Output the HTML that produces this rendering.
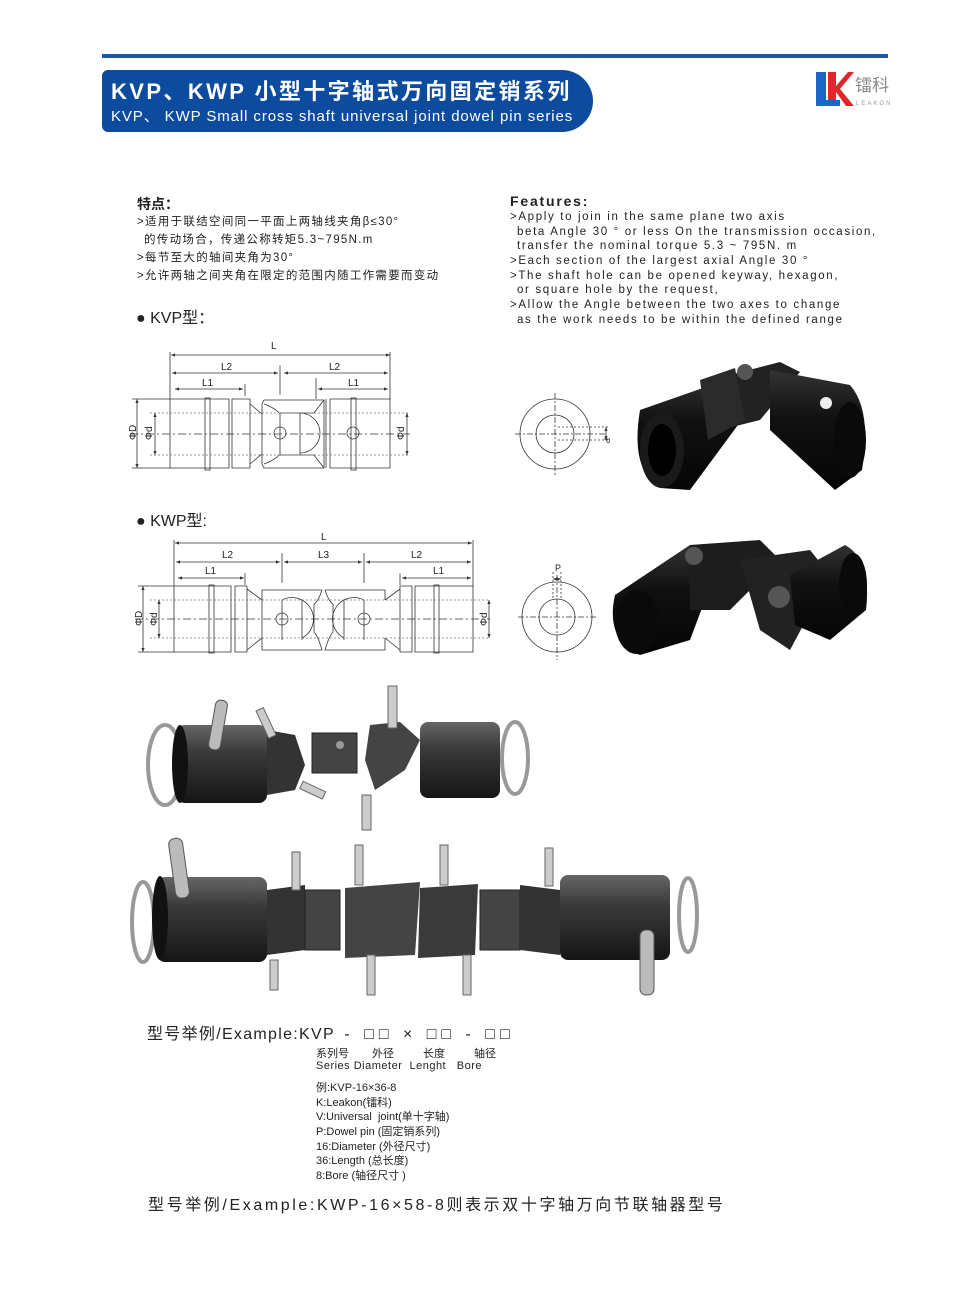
<!DOCTYPE html>
<html><head><meta charset="utf-8">
<style>
html,body{margin:0;padding:0;background:#fff;}
body{width:960px;height:1312px;position:relative;overflow:hidden;font-family:"Liberation Sans","Noto Sans CJK SC",sans-serif;color:#222;}
.a{position:absolute;white-space:nowrap;}
.t12{font-size:11.5px;letter-spacing:1.3px;}
.f12{font-size:11.5px;letter-spacing:1.65px;}
.s11{font-size:11px;}
</style></head><body>
<div class="a" style="left:102px;top:54px;width:786px;height:4px;background:#1b55a8;"></div>
<div class="a" style="left:102px;top:70px;width:491px;height:62px;background:#0c4b9e;border-radius:6px 31px 31px 6px;"></div>
<div class="a" style="left:111px;top:74px;color:#fff;font-size:22px;font-weight:bold;letter-spacing:2.4px;">KVP、KWP 小型十字轴式万向固定销系列</div>
<div class="a" style="left:111px;top:105px;color:#fff;font-size:15px;letter-spacing:0.9px;">KVP、 KWP Small cross shaft universal joint dowel pin series</div>
<svg class="a" style="left:814px;top:70px" width="80" height="40">
<polygon points="2,2 12,2 12,30 26,30 26,36 2,36" fill="#1d64c8"/>
<polygon points="14,2 22,2 22,16 34,2 40,2 26,19 40,36 32,36 22,22 22,30 14,30" fill="#e0262b"/>
<text x="41" y="21" font-size="17" fill="#8a8a8a" font-family="Noto Sans CJK SC,sans-serif">镭科</text>
<text x="42" y="35" font-size="6" fill="#999" letter-spacing="2">LEAKON</text>
</svg>

<div class="a" style="left:137px;top:194px;font-size:14px;font-weight:bold;">特点：</div>
<div class="a t12" style="left:137px;top:213px;">&gt;适用于联结空间同一平面上两轴线夹角β≤30°</div>
<div class="a t12" style="left:144px;top:231px;">的传动场合，传递公称转矩5.3~795N.m</div>
<div class="a t12" style="left:137px;top:249px;">&gt;每节至大的轴间夹角为30°</div>
<div class="a t12" style="left:137px;top:267px;">&gt;允许两轴之间夹角在限定的范围内随工作需要而变动</div>
<div class="a" style="left:136px;top:304px;font-size:16px;">● KVP型：</div>
<div class="a" style="left:136px;top:507px;font-size:16px;">● KWP型:</div>

<div class="a" style="left:510px;top:193px;font-size:14px;font-weight:bold;letter-spacing:1.8px;">Features:</div>
<div class="a f12" style="left:510px;top:211px;">&gt;Apply to join in the same plane two axis</div>
<div class="a f12" style="left:517px;top:226px;">beta Angle 30 ° or less On the transmission occasion,</div>
<div class="a f12" style="left:517px;top:240px;">transfer the nominal torque 5.3 ~ 795N. m</div>
<div class="a f12" style="left:510px;top:255px;">&gt;Each section of the largest axial Angle 30 °</div>
<div class="a f12" style="left:510px;top:270px;">&gt;The shaft hole can be opened keyway, hexagon,</div>
<div class="a f12" style="left:517px;top:284px;">or square hole by the request,</div>
<div class="a f12" style="left:510px;top:299px;">&gt;Allow the Angle between the two axes to change</div>
<div class="a f12" style="left:517px;top:314px;">as the work needs to be within the defined range</div>

<svg class="a" style="left:0;top:0" width="960" height="1312" font-family="Liberation Sans,sans-serif">
<defs>
<marker id="ar" markerWidth="6" markerHeight="6" refX="5" refY="3" orient="auto-start-reverse"><path d="M0,1 L5,3 L0,5z" fill="#333"/></marker>
<linearGradient id="blk" x1="0" y1="0" x2="0" y2="1"><stop offset="0" stop-color="#333"/><stop offset="0.4" stop-color="#111"/><stop offset="1" stop-color="#050505"/></linearGradient>
<linearGradient id="gry" x1="0" y1="0" x2="0" y2="1"><stop offset="0" stop-color="#666"/><stop offset="0.35" stop-color="#3a3a3a"/><stop offset="1" stop-color="#151515"/></linearGradient>
</defs>
<g stroke="#333" stroke-width="0.8" fill="none">
<line x1="171" y1="355" x2="390" y2="355" marker-start="url(#ar)" marker-end="url(#ar)"/>
<line x1="172" y1="373" x2="278" y2="373" marker-start="url(#ar)" marker-end="url(#ar)"/>
<line x1="284" y1="373" x2="388" y2="373" marker-start="url(#ar)" marker-end="url(#ar)"/>
<line x1="175" y1="389" x2="243" y2="389" marker-start="url(#ar)" marker-end="url(#ar)"/>
<line x1="318" y1="389" x2="388" y2="389" marker-start="url(#ar)" marker-end="url(#ar)"/>
<line x1="170" y1="352" x2="170" y2="399"/><line x1="390" y1="352" x2="390" y2="399"/>
<line x1="280" y1="365" x2="280" y2="395"/><line x1="316" y1="378" x2="316" y2="399"/><line x1="245" y1="384" x2="245" y2="396"/>
<path d="M170,399 H229 V468 H170 Z M232,399 H250 V468 H232 Z M250,404 L262,414 V454 L250,464 M262,414 V404 L264,400 H324 V468 H264 L262,464 V454"/>
<path d="M264,404 Q275,408 279,413 H314 Q320,405 324,400"/>
<path d="M264,464 Q275,460 279,455 H314 Q320,463 324,468"/>
<path d="M300,413 V455 M280,413 V455 M300,413 A20,20 0 0 1 300,453"/>
<path d="M330,399 H390 V468 H330 Z M326,399 V468"/>
<rect x="205" y="398" width="5" height="72"/><rect x="351" y="398" width="5" height="72"/>
<circle cx="280" cy="433" r="6"/><circle cx="353" cy="433" r="6"/>
<path d="M130,434 H410" stroke-dasharray="8,3,2,3"/>
<path d="M150,413 H410 M150,455 H410" stroke-dasharray="2,2" stroke="#777"/>
<line x1="137" y1="399" x2="137" y2="468" marker-start="url(#ar)" marker-end="url(#ar)"/>
<line x1="155" y1="413" x2="155" y2="455" marker-start="url(#ar)" marker-end="url(#ar)"/>
<line x1="407" y1="413" x2="407" y2="455" marker-start="url(#ar)" marker-end="url(#ar)"/>
<line x1="132" y1="399" x2="170" y2="399"/><line x1="132" y1="468" x2="170" y2="468"/>
<circle cx="555" cy="434" r="35"/><circle cx="555" cy="434" r="19"/>
<path d="M515,434 H605 M555,393 V475" stroke-dasharray="6,2,2,2"/>
<path d="M558,427 H609 M558,440 H609" stroke-dasharray="2,2"/>
<line x1="606" y1="427" x2="606" y2="440" marker-start="url(#ar)" marker-end="url(#ar)"/>

<line x1="175" y1="543" x2="472" y2="543" marker-start="url(#ar)" marker-end="url(#ar)"/>
<line x1="176" y1="562" x2="280" y2="562" marker-start="url(#ar)" marker-end="url(#ar)"/>
<line x1="284" y1="562" x2="362" y2="562" marker-start="url(#ar)" marker-end="url(#ar)"/>
<line x1="366" y1="562" x2="471" y2="562" marker-start="url(#ar)" marker-end="url(#ar)"/>
<line x1="178" y1="578" x2="244" y2="578" marker-start="url(#ar)" marker-end="url(#ar)"/>
<line x1="402" y1="578" x2="471" y2="578" marker-start="url(#ar)" marker-end="url(#ar)"/>
<line x1="174" y1="540" x2="174" y2="586"/><line x1="473" y1="540" x2="473" y2="586"/>
<line x1="282" y1="553" x2="282" y2="583"/><line x1="364" y1="553" x2="364" y2="583"/>
<line x1="245" y1="573" x2="245" y2="585"/><line x1="400" y1="573" x2="400" y2="585"/>
<path d="M174,586 H231 V652 H174 Z M235,586 H247 V652 H235 Z M247,589 L262,600 V638 L247,650"/>
<path d="M262,600 V590 H322 Q318,602 314,604 V632 Q318,636 322,650 H262 V638"/>
<path d="M325,590 H385 V600 M385,638 V650 H325 Q329,636 333,632 V604 Q329,602 325,590"/>
<path d="M385,600 L400,589 M385,638 L400,650 M400,586 H412 V652 H400 Z M415,586 H473 V652 H415 Z"/>
<path d="M282,600 V640 M302,600 V640 M282,600 A20,20 0 0 1 302,638 M364,600 V640 M344,600 V640 M364,600 A20,20 0 0 0 344,638"/>
<rect x="209" y="585" width="5" height="68"/><rect x="434" y="585" width="5" height="68"/>
<circle cx="282" cy="619" r="6"/><circle cx="364" cy="619" r="6"/>
<path d="M135,619 H490" stroke-dasharray="8,3,2,3"/>
<path d="M150,600 H490 M150,638 H490" stroke-dasharray="2,2" stroke="#777"/>
<line x1="143" y1="586" x2="143" y2="652" marker-start="url(#ar)" marker-end="url(#ar)"/>
<line x1="159" y1="600" x2="159" y2="638" marker-start="url(#ar)" marker-end="url(#ar)"/>
<line x1="489" y1="600" x2="489" y2="638" marker-start="url(#ar)" marker-end="url(#ar)"/>
<line x1="138" y1="586" x2="174" y2="586"/><line x1="138" y1="652" x2="174" y2="652"/>
<circle cx="557" cy="617" r="35"/><circle cx="557" cy="617" r="18"/>
<path d="M518,617 H598 M557,575 V660" stroke-dasharray="6,2,2,2"/>
<path d="M553,572 V600 M561,572 V600" stroke-dasharray="2,2"/>
<line x1="553" y1="579" x2="561" y2="579" marker-start="url(#ar)" marker-end="url(#ar)"/>
</g>
<g font-size="10" fill="#222">
<text x="271" y="349">L</text><text x="221" y="370">L2</text><text x="329" y="370">L2</text>
<text x="202" y="386">L1</text><text x="348" y="386">L1</text>
<text x="321" y="540">L</text><text x="222" y="558">L2</text><text x="318" y="558">L3</text><text x="411" y="558">L2</text>
<text x="205" y="574">L1</text><text x="433" y="574">L1</text>
<text x="555" y="571" font-size="9">P</text>
<text transform="translate(136,440) rotate(-90)">ΦD</text>
<text transform="translate(152,440) rotate(-90)">Φd</text>
<text transform="translate(404,440) rotate(-90)">Φd</text>
<text transform="translate(142,626) rotate(-90)">ΦD</text>
<text transform="translate(157,626) rotate(-90)">Φd</text>
<text transform="translate(487,626) rotate(-90)">Φd</text>
<text transform="translate(604,438) rotate(90)" font-size="8">P</text>
</g>

<g>
<path d="M640,410 L740,375 L760,395 L690,490 L660,488 Q630,470 640,410Z" fill="url(#blk)"/>
<ellipse cx="662" cy="450" rx="22" ry="38" fill="#1a1a1a"/>
<ellipse cx="662" cy="450" rx="14" ry="26" fill="#000"/>
<path d="M730,375 L780,362 L800,372 L760,420 L720,430Z" fill="#222"/>
<path d="M770,370 L850,385 Q872,410 862,470 L835,490 L770,430Z" fill="url(#blk)"/>
<ellipse cx="850" cy="440" rx="16" ry="38" fill="#0a0a0a"/>
<circle cx="745" cy="372" r="8" fill="#555"/><circle cx="826" cy="403" r="6" fill="#eee"/>
<path d="M700,380 L735,368 L745,420 L708,440Z" fill="#2b2b2b"/>
</g>
<g>
<path d="M615,595 L690,545 L720,560 L690,640 L640,655 Q605,640 615,595Z" fill="url(#blk)"/>
<ellipse cx="637" cy="622" rx="22" ry="32" fill="#0a0a0a"/>
<path d="M690,545 L760,540 L780,560 L730,610 L690,610Z" fill="#1d1d1d"/>
<path d="M740,560 L810,550 L830,575 L790,650 L760,630Z" fill="#222"/>
<path d="M790,575 L845,545 Q872,560 866,610 L830,640 L795,625Z" fill="url(#blk)"/>
<ellipse cx="853" cy="585" rx="14" ry="32" fill="#0a0a0a"/>
<circle cx="694" cy="556" r="9" fill="#555"/><circle cx="779" cy="597" r="11" fill="#555"/>
</g>

<g>
<ellipse cx="165" cy="765" rx="17" ry="40" fill="none" stroke="#999" stroke-width="4"/>
<rect x="177" y="725" width="90" height="78" rx="8" fill="url(#gry)"/>
<ellipse cx="180" cy="764" rx="8" ry="39" fill="#111"/>
<rect x="212" y="700" width="12" height="50" rx="5" transform="rotate(10 218 725)" fill="#bbb" stroke="#555"/>
<path d="M267,730 L295,735 L305,765 L295,790 L267,795Z" fill="#333"/>
<rect x="262" y="708" width="8" height="30" transform="rotate(-25 266 723)" fill="#ccc" stroke="#666"/>
<rect x="312" y="733" width="45" height="40" fill="#444" stroke="#222"/>
<circle cx="340" cy="745" r="4" fill="#999"/>
<path d="M370,725 L400,722 L420,740 L405,770 L375,790 L365,760Z" fill="#444"/>
<rect x="388" y="686" width="9" height="42" fill="#ccc" stroke="#666"/>
<rect x="420" y="722" width="80" height="76" rx="8" fill="url(#gry)"/>
<ellipse cx="515" cy="758" rx="13" ry="36" fill="none" stroke="#999" stroke-width="4"/>
<rect x="300" y="785" width="25" height="8" transform="rotate(25 310 790)" fill="#ccc" stroke="#666"/>
<rect x="362" y="795" width="9" height="35" fill="#ccc" stroke="#666"/>
</g>
<g>
<ellipse cx="143" cy="922" rx="11" ry="40" fill="none" stroke="#999" stroke-width="4"/>
<rect x="157" y="877" width="110" height="85" rx="8" fill="url(#gry)"/>
<ellipse cx="160" cy="918" rx="8" ry="42" fill="#111"/>
<rect x="172" y="838" width="14" height="60" rx="6" transform="rotate(-8 180 868)" fill="#bbb" stroke="#555"/>
<path d="M267,890 L305,885 V950 L267,955Z" fill="#333"/>
<rect x="292" y="852" width="8" height="38" fill="#ccc" stroke="#666"/>
<rect x="305" y="890" width="35" height="60" fill="#444" stroke="#222"/>
<path d="M345,888 L420,882 L415,955 L345,958Z" fill="#444"/>
<path d="M420,888 L478,884 L475,955 L418,958Z" fill="#3a3a3a"/>
<rect x="355" y="845" width="8" height="40" fill="#ccc" stroke="#666"/>
<rect x="440" y="845" width="8" height="40" fill="#ccc" stroke="#666"/>
<rect x="367" y="955" width="8" height="40" fill="#ccc" stroke="#666"/>
<rect x="463" y="955" width="8" height="40" fill="#ccc" stroke="#666"/>
<rect x="480" y="890" width="40" height="60" fill="#444" stroke="#222"/>
<path d="M520,885 L560,890 V955 L520,950Z" fill="#333"/>
<rect x="545" y="848" width="8" height="38" fill="#ccc" stroke="#666"/>
<rect x="560" y="875" width="110" height="85" rx="8" fill="url(#gry)"/>
<rect x="640" y="930" width="14" height="65" rx="6" fill="#bbb" stroke="#555"/>
<ellipse cx="688" cy="915" rx="9" ry="37" fill="none" stroke="#999" stroke-width="4"/>
<rect x="270" y="960" width="8" height="30" fill="#ccc" stroke="#666"/>
</g>
</svg>

<div class="a" style="left:147px;top:1020px;font-size:16px;letter-spacing:1.3px;">型号举例/Example:KVP<span style="letter-spacing:5px;"> - □□ × □□ - □□</span></div>
<div class="a s11" style="left:316px;top:1045px;"><span class="a" style="left:0">系列号</span><span class="a" style="left:56px">外径</span><span class="a" style="left:107px">长度</span><span class="a" style="left:158px">轴径</span></div>
<div class="a s11" style="left:316px;top:1060px;letter-spacing:0.5px;">Series Diameter&nbsp; Lenght&nbsp;&nbsp; Bore</div>
<div class="a s11" style="left:316px;top:1079px;">例:KVP-16×36-8</div>
<div class="a s11" style="left:316px;top:1094px;">K:Leakon(镭科)</div>
<div class="a s11" style="left:316px;top:1108px;">V:Universal&nbsp; joint(单十字轴)</div>
<div class="a s11" style="left:316px;top:1123px;">P:Dowel pin (固定销系列)</div>
<div class="a s11" style="left:316px;top:1138px;">16:Diameter (外径尺寸)</div>
<div class="a s11" style="left:316px;top:1152px;">36:Length (总长度)</div>
<div class="a s11" style="left:316px;top:1167px;">8:Bore (轴径尺寸 )</div>
<div class="a" style="left:148px;top:1191px;font-size:16px;letter-spacing:2.6px;">型号举例/Example:KWP-16×58-8则表示双十字轴万向节联轴器型号</div>
</body></html>
